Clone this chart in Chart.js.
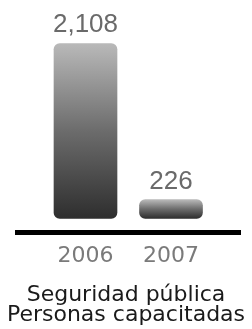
<!DOCTYPE html>
<html>
<head>
<meta charset="utf-8">
<script src="https://cdn.jsdelivr.net/npm/chart.js@4/dist/chart.umd.min.js"></script>
<style>
  html, body { margin: 0; padding: 0; background: #ffffff; }
  #wrap { width: 252px; height: 329px; position: relative; }
</style>
</head>
<body>
<div id="wrap"><canvas id="c"></canvas></div>
<script>
const years = ['2006', '2007'];
const trainedPeople = [2108, 226];
const titleLines = ['Seguridad pública', 'Personas capacitadas'];

function barGradient(ctx) {
  const chart = ctx.chart;
  if (!chart.chartArea || ctx.parsed === undefined) return '#666';
  const ys = chart.scales.y;
  const top = ys.getPixelForValue(ctx.parsed.y);
  const bottom = ys.getPixelForValue(0);
  const g = chart.ctx.createLinearGradient(0, top, 0, bottom);
  g.addColorStop(0, '#b9b9b9');
  g.addColorStop(0.5, '#6c6c6c');
  g.addColorStop(1, '#2e2e2e');
  return g;
}

const valueLabels = {
  id: 'valueLabels',
  afterDatasetsDraw(chart) {
    const c = chart.ctx;
    const meta = chart.getDatasetMeta(0);
    c.save();
    c.font = '26px "Liberation Sans", Arial, sans-serif';
    c.fillStyle = '#6a6a6a';
    c.textAlign = 'center';
    c.textBaseline = 'alphabetic';
    meta.data.forEach((el, i) => {
      c.fillText(trainedPeople[i].toLocaleString('en-US'), el.x, el.y - 11);
    });
    c.restore();
  }
};

// baseline rule under the bars, wider than the plot area
const baseRule = {
  id: 'baseRule',
  afterDatasetsDraw(chart, args, opts) {
    const c = chart.ctx;
    const y = chart.scales.x.top;
    c.save();
    c.strokeStyle = opts.color;
    c.lineWidth = opts.width;
    c.beginPath();
    c.moveTo(opts.left, y);
    c.lineTo(chart.width - opts.right, y);
    c.stroke();
    c.restore();
  }
};

const hiddenSide = (w) => ({
  display: true,
  grid: { display: false, drawTicks: false },
  border: { display: false },
  ticks: { display: false },
  afterFit(s) { s.width = w; }
});

new Chart(document.getElementById('c'), {
  type: 'bar',
  data: {
    labels: years,
    datasets: [{
      data: trainedPeople,
      backgroundColor: barGradient,
      borderRadius: 6,
      borderSkipped: false,
      barThickness: 63,
      yAxisID: 'y'
    }]
  },
  options: {
    responsive: true,
    maintainAspectRatio: false,
    animation: false,
    layout: { padding: 0 },
    plugins: {
      legend: { display: false },
      tooltip: { enabled: false },
      baseRule: { color: '#000000', width: 5, left: 15, right: 11 },
      title: {
        display: true,
        position: 'bottom',
        text: titleLines,
        color: '#1a1a1a',
        font: { family: '"DejaVu Sans", sans-serif', size: 22, weight: 'normal', lineHeight: 20 / 22 },
        padding: { top: 6, bottom: 4 }
      }
    },
    scales: {
      x: {
        grid: { display: false, drawTicks: false },
        border: { display: false },
        ticks: {
          color: '#7a7a7a',
          padding: 10,
          maxRotation: 0,
          autoSkip: false,
          font: { family: '"DejaVu Sans", sans-serif', size: 22, lineHeight: 1.2 }
        }
      },
      y: Object.assign(hiddenSide(42.75), { position: 'left', min: -171, max: 2632 }),
      yRight: Object.assign(hiddenSide(38.25), { position: 'right', min: 0, max: 1 })
    }
  },
  plugins: [valueLabels, baseRule]
});
</script>
</body>
</html>
